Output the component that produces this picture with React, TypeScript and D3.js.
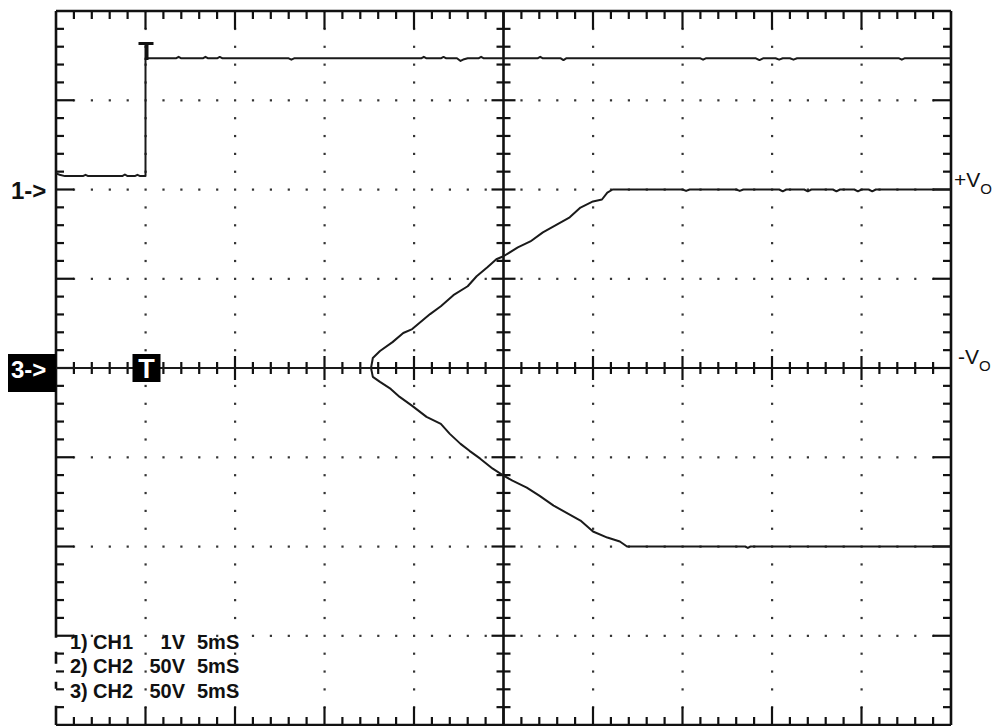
import React from "react";
import * as d3 from "d3";

// ---- data (time in ms, 5 ms/div; 10 divisions) ----
const timeDomain = [0, 50];
const divDomain = [-4, 4];

// Channel 1: 1 V/div, reference marker "1->" at +2 div
const ch1Offset = 2;
const ch1Scale = 1;
const ch1Time = [0, 0.2, 0.5, 1.5, 1.65, 1.8, 3.7, 3.85, 4.0, 4.4, 4.55, 4.7, 5.0, 5.0, 5.2, 6.7, 6.85, 7.0, 8.2, 8.35, 8.5, 9.0, 9.15, 9.3, 13.0, 13.15, 13.3, 20.4, 20.55, 20.7, 21.5, 21.65, 21.8, 22.4, 22.6, 22.8, 23.0, 23.6, 23.75, 23.9, 26.9, 27.05, 27.2, 28.2, 28.35, 28.5, 36.0, 36.15, 36.3, 39.1, 39.3, 39.5, 40.2, 40.4, 40.6, 41.0, 41.2, 41.4, 47.1, 47.25, 47.4, 50];
const ch1Volt = [0.18, 0.165, 0.15, 0.15, 0.165, 0.15, 0.15, 0.168, 0.15, 0.15, 0.165, 0.15, 0.15, 1.47, 1.47, 1.47, 1.487, 1.47, 1.47, 1.487, 1.47, 1.47, 1.485, 1.47, 1.47, 1.455, 1.47, 1.47, 1.487, 1.47, 1.47, 1.485, 1.47, 1.47, 1.44, 1.46, 1.47, 1.47, 1.487, 1.47, 1.47, 1.487, 1.47, 1.47, 1.45, 1.47, 1.47, 1.455, 1.47, 1.47, 1.45, 1.47, 1.47, 1.455, 1.47, 1.47, 1.455, 1.47, 1.47, 1.455, 1.47, 1.47];

// Channel 2 (+Vo): 50 V/div, reference at centre
const ch2Scale = 50;
const ch2Time = [0, 17.6, 17.7, 18.1, 18.8, 19.4, 19.9, 20.9, 21.5, 22.2, 23.0, 23.5, 24.1, 24.6, 25.0, 25.8, 26.5, 27.2, 28.0, 28.7, 29.3, 30.0, 30.5, 30.8, 31.1, 35.0, 35.2, 35.4, 38.0, 38.2, 38.4, 40.4, 40.6, 40.8, 41.8, 42.0, 42.2, 43.4, 43.6, 43.8, 44.6, 44.8, 45.0, 45.4, 45.6, 45.8, 50];
const ch2Volt = [0, 0, 5.6, 9.5, 14.5, 19.6, 21.8, 30.2, 34.6, 40.8, 45.8, 51.4, 56.4, 60.9, 62.6, 67.6, 70.9, 76.0, 80.4, 84.4, 89.9, 93.3, 94.4, 98.3, 100, 100, 99.2, 100, 100, 99.2, 100, 100, 99.0, 100, 100, 99.0, 100, 100, 99.0, 100, 100, 99.0, 100, 100, 99.0, 100, 100];

// Channel 3 (-Vo): 50 V/div, reference "3->" at centre
const ch3Scale = 50;
const ch3Time = [0, 17.6, 17.7, 18.1, 18.7, 19.2, 19.9, 20.7, 21.5, 22.0, 22.6, 23.1, 23.7, 24.4, 25.0, 25.5, 26.3, 27.0, 27.8, 28.5, 29.3, 30.0, 30.8, 31.5, 31.9, 38.5, 38.65, 38.8, 50];
const ch3Volt = [0, 0, -5.0, -7.8, -11.7, -16.2, -21.2, -27.4, -31.3, -36.9, -42.5, -46.4, -50.8, -56.4, -60.3, -63.1, -67.0, -71.5, -77.1, -81.0, -85.5, -91.6, -95.0, -97.2, -100, -100, -100.8, -100, -100];

const trigTime = 5.0;
const infoLines = [
  ["1)", "CH1", "1V", "5mS"],
  ["2)", "CH2", "50V", "5mS"],
  ["3)", "CH2", "50V", "5mS"],
];

// ---- layout ----
const W = 992;
const H = 726;
const left = 56;
const right = 951;
const top = 11;
const bottom = 725;
const FONT = "'Liberation Sans', Arial, Helvetica, sans-serif";

export default function App() {
  const x = d3.scaleLinear().domain(timeDomain).range([left, right]);
  const y = d3.scaleLinear().domain(divDomain).range([bottom, top]);

  const majorX = d3.range(0, 51, 5);
  const minorX = d3.range(0, 50.001, 1);
  const majorY = d3.range(-4, 4.001, 1);
  const minorY = d3.range(-4, 4.001, 0.2);

  const isMajX = (t: number) => Math.abs(t / 5 - Math.round(t / 5)) < 1e-6;
  const isMajY = (v: number) => Math.abs(v - Math.round(v)) < 1e-6;

  const dots: [number, number][] = [];
  majorX.forEach((t) => {
    if (t === 0 || t === 50 || t === 25) return;
    minorY.forEach((v) => {
      if (Math.abs(v) < 1e-6) return;
      dots.push([x(t), y(v)]);
    });
  });
  majorY.forEach((v) => {
    if (v === -4 || v === 4 || v === 0) return;
    minorX.forEach((t) => {
      if (t === 25) return;
      if (isMajX(t)) return;
      dots.push([x(t), y(v)]);
    });
  });

  const line = d3
    .line<[number, number]>()
    .x((d) => x(d[0]))
    .y((d) => y(d[1]));

  const ch1 = ch1Time.map((t, i) => [t, ch1Volt[i] / ch1Scale + ch1Offset] as [number, number]);
  const ch2 = ch2Time.map((t, i) => [t, ch2Volt[i] / ch2Scale] as [number, number]);
  const ch3 = ch3Time.map((t, i) => [t, ch3Volt[i] / ch3Scale] as [number, number]);

  const ticks: JSX.Element[] = [];
  minorX.forEach((t, i) => {
    if (t === 0 || t === 50) return;
    const len = isMajX(t) ? 18 : 8;
    ticks.push(<line key={"tt" + i} x1={x(t)} x2={x(t)} y1={top} y2={top + len} />);
    ticks.push(<line key={"tb" + i} x1={x(t)} x2={x(t)} y1={bottom} y2={bottom - len} />);
    const c = isMajX(t) ? 12 : 6;
    if (t !== 25)
      ticks.push(<line key={"tc" + i} x1={x(t)} x2={x(t)} y1={y(0) - c} y2={y(0) + c} />);
  });
  minorY.forEach((v, i) => {
    if (Math.abs(v) > 3.999) return;
    const len = isMajY(v) ? 18 : 8;
    ticks.push(<line key={"tl" + i} x1={left} x2={left + len} y1={y(v)} y2={y(v)} />);
    ticks.push(<line key={"tr" + i} x1={right} x2={right - len} y1={y(v)} y2={y(v)} />);
    const c = isMajY(v) ? 12 : 7;
    if (Math.abs(v) > 1e-6)
      ticks.push(<line key={"tcv" + i} x1={x(25) - c} x2={x(25) + c} y1={y(v)} y2={y(v)} />);
  });

  const xt = x(trigTime);
  const yc = y(0);
  const textCols = [70, 93, 185, 197];
  const textRows = [y(-3) + 13, y(-3) + 37, y(-3) + 62];

  return (
    <svg
      width={W}
      height={H}
      viewBox={`0 0 ${W} ${H}`}
      style={{ position: "fixed", left: 0, top: 0, background: "#fff" }}
    >
      <rect x={0} y={0} width={W} height={H} fill="#fff" />
      {/* dotted graticule */}
      <g fill="#333">
        {dots.map((d, i) => (
          <rect key={i} x={d[0] - 1} y={d[1] - 1} width={2.2} height={2.2} />
        ))}
      </g>
      {/* ticks */}
      <g stroke="#111" strokeWidth={2.2}>{ticks}</g>
      {/* centre axes */}
      <line x1={left} x2={right} y1={yc} y2={yc} stroke="#111" strokeWidth={2.2} />
      <line x1={x(25)} x2={x(25)} y1={top} y2={bottom} stroke="#111" strokeWidth={2.6} />
      {/* frame */}
      <g stroke="#111" strokeWidth={2.6} fill="none">
        <line x1={left} x2={right} y1={top} y2={top} />
        <line x1={left} x2={right} y1={bottom} y2={bottom} />
        <line x1={right} x2={right} y1={top} y2={bottom} />
        <line x1={left} x2={left} y1={top} y2={y(-3) + 2} />
        <line x1={left} x2={left} y1={y(-3) + 16} y2={y(-3) + 28} />
        <line x1={left} x2={left} y1={y(-3) + 46} y2={y(-3) + 53} />
        <line x1={left} x2={left} y1={y(-3) + 70} y2={bottom} />
      </g>
      {/* traces */}
      <g fill="none" stroke="#1a1a1a" strokeWidth={2} strokeLinejoin="round">
        <path d={line(ch3) || ""} />
        <path d={line(ch2) || ""} />
        <path d={line(ch1) || ""} />
      </g>
      {/* ch1 trigger mark */}
      <g fill="#111">
        <rect x={xt - 7} y={42} width={15} height={3} />
        <rect x={xt - 1} y={42} width={4} height={18} />
      </g>
      {/* centre trigger box */}
      <rect x={xt - 13} y={yc - 14} width={28} height={28} fill="#000" />
      <text x={xt + 1} y={yc + 10} fill="#fff" fontFamily={FONT} fontWeight="bold" fontSize={27} textAnchor="middle">T</text>
      {/* channel markers */}
      <text x={11} y={y(2) + 9} fontFamily={FONT} fontWeight="bold" fontSize={24} fill="#111">1-&gt;</text>
      <rect x={8} y={yc - 14} width={48} height={38} fill="#000" />
      <text x={11} y={yc + 10} fontFamily={FONT} fontWeight="bold" fontSize={24} fill="#fff">3-&gt;</text>
      {/* Vo labels */}
      <text x={954} y={y(2) - 3} fontFamily={FONT} fontSize={21} fill="#111">
        +V<tspan fontSize={15} dy={7}>O</tspan>
      </text>
      <text x={958} y={yc - 4} fontFamily={FONT} fontSize={21} fill="#111">
        -V<tspan fontSize={15} dy={7}>O</tspan>
      </text>
      {/* info block */}
      <g fontFamily={FONT} fontWeight="bold" fontSize={20} fill="#111">
        {infoLines.map((ln, r) => (
          <g key={r}>
            <text x={textCols[0]} y={textRows[r]}>{ln[0]}</text>
            <text x={textCols[1]} y={textRows[r]}>{ln[1]}</text>
            <text x={textCols[2]} y={textRows[r]} textAnchor="end">{ln[2]}</text>
            <text x={textCols[3]} y={textRows[r]}>{ln[3]}</text>
          </g>
        ))}
      </g>
    </svg>
  );
}
